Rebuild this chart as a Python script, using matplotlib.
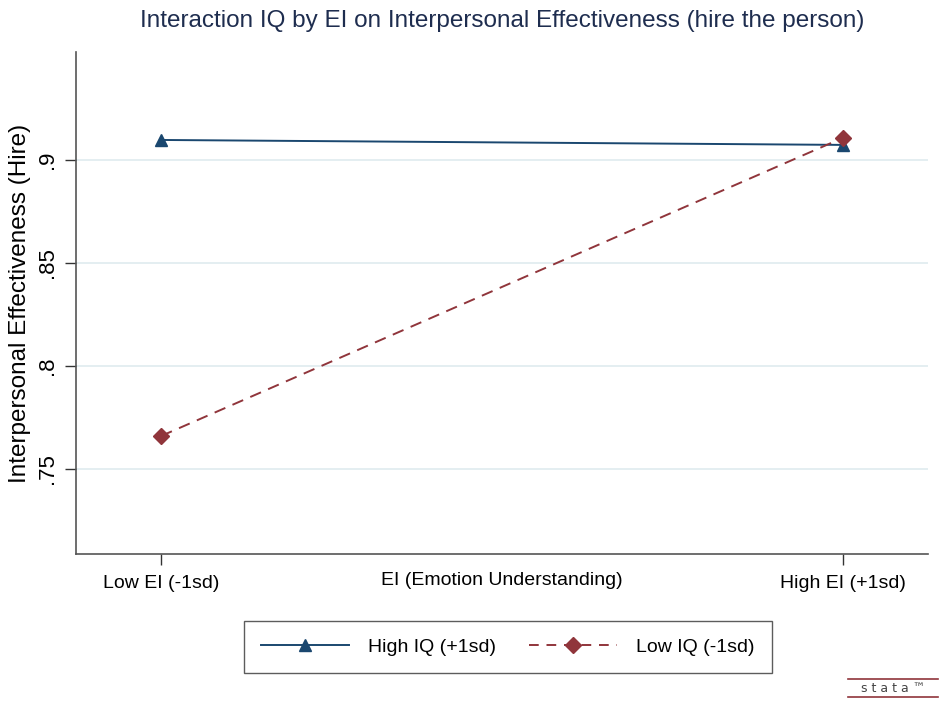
import matplotlib
matplotlib.use("Agg")
import matplotlib.pyplot as plt
from matplotlib.lines import Line2D

plt.rcParams["font.family"] = ["Liberation Sans", "DejaVu Sans"]

# data
ei_levels = [0, 1]
ei_labels = ["Low EI (-1sd)", "High EI (+1sd)"]
high_iq = [0.9097, 0.9073]
low_iq = [0.766, 0.9107]
y_ticks = [0.75, 0.8, 0.85, 0.9]
y_tick_labels = [".75", ".8", ".85", ".9"]

navy = "#1a476f"
maroon = "#90353b"
grid_col = "#e4eef1"

fig = plt.figure(figsize=(9.46, 7.02), dpi=100)
ax = fig.add_axes([76 / 946, 1 - 554 / 702, (928 - 76) / 946, (554 - 52) / 702])

for y in y_ticks:
    ax.axhline(y, color=grid_col, lw=1.4, zorder=0)

ax.plot(ei_levels, high_iq, color=navy, lw=1.4, marker="^", ms=9,
        label="High IQ (+1sd)", zorder=3)
ax.plot(ei_levels, low_iq, color=maroon, lw=1.4, ls=(0, (6, 4)), marker="D",
        ms=8, label="Low IQ (-1sd)", zorder=4)

ax.set_xlim(-0.125, 1.125)
ax.set_ylim(0.7087, 0.9524)
ax.set_xticks(ei_levels)
ax.set_xticklabels(ei_labels, fontsize=14)
ax.set_yticks(y_ticks)
ax.set_yticklabels(y_tick_labels, fontsize=16, rotation=90, va="center")
ax.tick_params(axis="both", length=8, width=1, color="#333333", pad=5)
ax.tick_params(axis="x", pad=7)

for s in ("top", "right"):
    ax.spines[s].set_visible(False)
for s in ("left", "bottom"):
    ax.spines[s].set_color("#555555")
    ax.spines[s].set_linewidth(1.2)

ax.set_ylabel("Interpersonal Effectiveness (Hire)", fontsize=17.5, labelpad=4)
ax.text(0.5, -0.053, "EI (Emotion Understanding)", transform=ax.transAxes,
        ha="center", va="center", fontsize=14)

fig.text(502 / 946, 1 - 21 / 702,
         "Interaction IQ by EI on Interpersonal Effectiveness (hire the person)",
         ha="center", va="center", fontsize=17.5, color="#1e2d4f")

handles = [
    Line2D([], [], color=navy, lw=1.4, marker="^", ms=9),
    Line2D([], [], color=maroon, lw=1.4, ls=(0, (5, 4)), marker="D", ms=8),
]
leg = fig.legend(handles, ["High IQ (+1sd)", "Low IQ (-1sd)"], ncol=2,
                 loc="center", bbox_to_anchor=(508 / 946, 1 - 647 / 702),
                 fontsize=14, frameon=True, fancybox=False, handlelength=4.5,
                 columnspacing=1.7, borderpad=0.9, handletextpad=1.0)
leg.get_frame().set_edgecolor("#333333")
leg.get_frame().set_linewidth(1.0)

# stata logo
fig.text(893 / 946, 1 - 688 / 702, "s t a t a \u2122", ha="center", va="center",
         fontsize=9, color="#444444", family=["DejaVu Sans"])
fig.add_artist(Line2D([848 / 946, 938 / 946], [1 - 679 / 702] * 2,
                      color=maroon, lw=1.2))
fig.add_artist(Line2D([848 / 946, 938 / 946], [1 - 697 / 702] * 2,
                      color=maroon, lw=1.2))

fig.savefig("out.png", dpi=100)
